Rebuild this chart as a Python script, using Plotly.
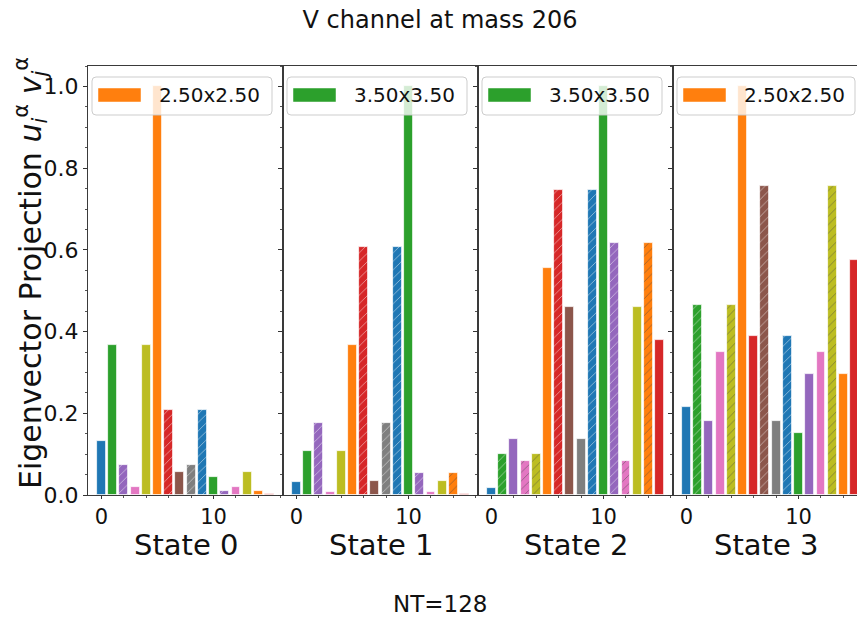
import plotly.graph_objects as go
from plotly.subplots import make_subplots

# Bar index along each state's eigenvector
basis = list(range(16))

# Projection magnitudes for each state
state0 = [0.133, 0.366, 0.074, 0.020, 0.366, 1.000, 0.207, 0.057,
          0.074, 0.207, 0.043, 0.010, 0.020, 0.057, 0.011, 0.002]
state1 = [0.031, 0.108, 0.177, 0.008, 0.108, 0.368, 0.606, 0.034,
          0.177, 0.606, 1.000, 0.055, 0.008, 0.034, 0.055, 0.002]
state2 = [0.017, 0.101, 0.137, 0.083, 0.101, 0.556, 0.746, 0.459,
          0.137, 0.746, 1.000, 0.616, 0.083, 0.459, 0.616, 0.379]
state3 = [0.215, 0.464, 0.181, 0.351, 0.464, 1.000, 0.390, 0.757,
          0.181, 0.390, 0.151, 0.295, 0.351, 0.757, 0.295, 0.574]

# 1 marks a negative component (drawn hatched)
sign0 = [0, 0, 1, 0, 0, 0, 1, 0, 1, 1, 0, 1, 0, 0, 0, 0]
sign1 = [0, 0, 1, 0, 0, 0, 1, 0, 1, 1, 0, 1, 0, 0, 1, 0]
sign2 = [0, 1, 0, 1, 1, 0, 1, 0, 0, 1, 0, 1, 1, 0, 1, 0]
sign3 = [0, 1, 0, 0, 1, 0, 0, 1, 0, 1, 0, 0, 0, 1, 0, 0]

state_names = ["State 0", "State 1", "State 2", "State 3"]
dominant_label = ["2.50x2.50", "3.50x3.50", "3.50x3.50", "2.50x2.50"]

title_text = "V channel at mass 206"
footer_text = "NT=128"

values = [state0, state1, state2, state3]
signs = [sign0, sign1, sign2, sign3]

blue, orange, green, red = "#1f77b4", "#ff7f0e", "#2ca02c", "#d62728"
purple, brown, pink, gray, olive = "#9467bd", "#8c564b", "#e377c2", "#7f7f7f", "#bcbd22"
bar_colors = [blue, green, purple, pink, olive, orange, red, brown,
              gray, blue, green, purple, pink, olive, orange, red]

FONT = "DejaVu Sans"
W, H = 857, 617
ML, MR, MT, MB = 88, 0, 66, 122
PW = W - ML - MR
PH = H - MT - MB
panel_px = 195
lefts = [ML + i * panel_px for i in range(4)]

fig = make_subplots(rows=1, cols=4, shared_yaxes=True, horizontal_spacing=0)

for i, (vals, sg) in enumerate(zip(values, signs)):
    fig.add_trace(
        go.Bar(
            x=basis,
            y=vals,
            width=0.8,
            marker=dict(
                color=bar_colors,
                line=dict(color="rgba(255,255,255,0.9)", width=0.8),
                pattern=dict(
                    shape=["/" if s else "" for s in sg],
                    fillmode="overlay",
                    fgcolor="rgba(255,255,255,0.5)",
                    size=6,
                    solidity=0.15,
                ),
            ),
            showlegend=False,
            hoverinfo="x+y",
        ),
        row=1, col=i + 1,
    )


def px_x(px):
    return (px - ML) / PW


def px_y(py):
    return (MT + PH - py) / PH


full_span = 17.38
for i in range(4):
    ax = dict(
        domain=[(lefts[i] - ML) / PW, min(1.0, (lefts[i] + panel_px - ML) / PW)],
        range=[-1.19, 16.19] if i < 3 else [-1.19, -1.19 + full_span * (W - lefts[3]) / panel_px],
        tickvals=[0, 10],
        ticks="outside", ticklen=3, tickcolor="#333",
        minor=dict(dtick=2, tick0=0, ticks="outside", ticklen=2, tickcolor="#555"),
        showline=True, linecolor="#3a3a3a", linewidth=1, mirror=True,
        showgrid=False, zeroline=False,
        tickfont=dict(family=FONT, size=21, color="#111"),
    )
    fig.update_xaxes(ax, row=1, col=i + 1)
    ay = dict(
        range=[0, 1.05],
        tickvals=[0, 0.2, 0.4, 0.6, 0.8, 1.0],
        ticktext=["0.0", "0.2", "0.4", "0.6", "0.8", "1.0"],
        ticks="outside", ticklen=4, tickcolor="#333",
        minor=dict(dtick=0.05, tick0=0, ticks="outside", ticklen=2, tickcolor="#555"),
        showline=True, linecolor="#3a3a3a", linewidth=1, mirror=(i < 3),
        showgrid=False, zeroline=False,
        showticklabels=(i == 0),
        tickfont=dict(family=FONT, size=22, color="#111"),
    )
    fig.update_yaxes(ay, row=1, col=i + 1)


def rounded_rect(x0, y0, x1, y1, r):
    # rounded rectangle path in paper coordinates, from pixel corners
    X0, X1 = px_x(x0), px_x(x1)
    Y0, Y1 = px_y(y0), px_y(y1)
    rx, ry = r / PW, r / PH
    return (f"M {X0 + rx},{Y0} L {X1 - rx},{Y0} Q {X1},{Y0} {X1},{Y0 - ry} "
            f"L {X1},{Y1 + ry} Q {X1},{Y1} {X1 - rx},{Y1} "
            f"L {X0 + rx},{Y1} Q {X0},{Y1} {X0},{Y1 + ry} "
            f"L {X0},{Y0 - ry} Q {X0},{Y0} {X0 + rx},{Y0} Z")


shapes = []
annotations = []
for i in range(4):
    L = lefts[i]
    vals = values[i]
    top_idx = vals.index(max(vals))
    right = min(L + 184, W - 2)
    shapes.append(dict(
        type="path", xref="paper", yref="paper", layer="above",
        path=rounded_rect(L + 4, 77, right, 115, 4),
        fillcolor="rgba(255,255,255,0.8)",
        line=dict(color="rgba(200,200,200,0.9)", width=1),
    ))
    shapes.append(dict(
        type="rect", xref="paper", yref="paper", layer="above",
        x0=px_x(L + 10), x1=px_x(L + 53), y0=px_y(102), y1=px_y(88),
        fillcolor=bar_colors[top_idx],
        line=dict(color="rgba(255,255,255,0.6)", width=0.8),
    ))
    annotations.append(dict(
        xref="paper", yref="paper", x=px_x(L + 69), y=px_y(95),
        xanchor="left", yanchor="middle", showarrow=False,
        text=dominant_label[i],
        font=dict(family=FONT, size=20, color="#111"),
    ))
    annotations.append(dict(
        xref="paper", yref="paper", x=px_x(L + panel_px / 2) if i < 3 else px_x(L + 93),
        y=px_y(545), xanchor="center", yanchor="middle", showarrow=False,
        text=state_names[i],
        font=dict(family=FONT, size=29, color="#111"),
    ))

annotations.append(dict(
    xref="paper", yref="paper", x=px_x(30), y=px_y(273),
    xanchor="center", yanchor="middle", showarrow=False, textangle=-90,
    text="Eigenvector Projection <i>u</i><sub><i>i</i></sub><sup>α</sup> "
         "<i>v</i><sub><i>j</i></sub><sup>α</sup>",
    font=dict(family=FONT, size=30, color="#111"),
))
annotations.append(dict(
    xref="paper", yref="paper", x=px_x(440), y=px_y(604),
    xanchor="center", yanchor="middle", showarrow=False,
    text=footer_text,
    font=dict(family=FONT, size=23, color="#111"),
))

fig.update_layout(
    width=W, height=H,
    margin=dict(l=ML, r=MR, t=MT, b=MB),
    paper_bgcolor="white", plot_bgcolor="white",
    bargap=0,
    title=dict(text=title_text, x=440 / W, xref="container", xanchor="center",
               y=1 - 20 / H, yref="container", yanchor="middle",
               font=dict(family=FONT, size=24, color="#111")),
    shapes=shapes,
    annotations=annotations,
    showlegend=False,
)

fig.write_html("out.html")
